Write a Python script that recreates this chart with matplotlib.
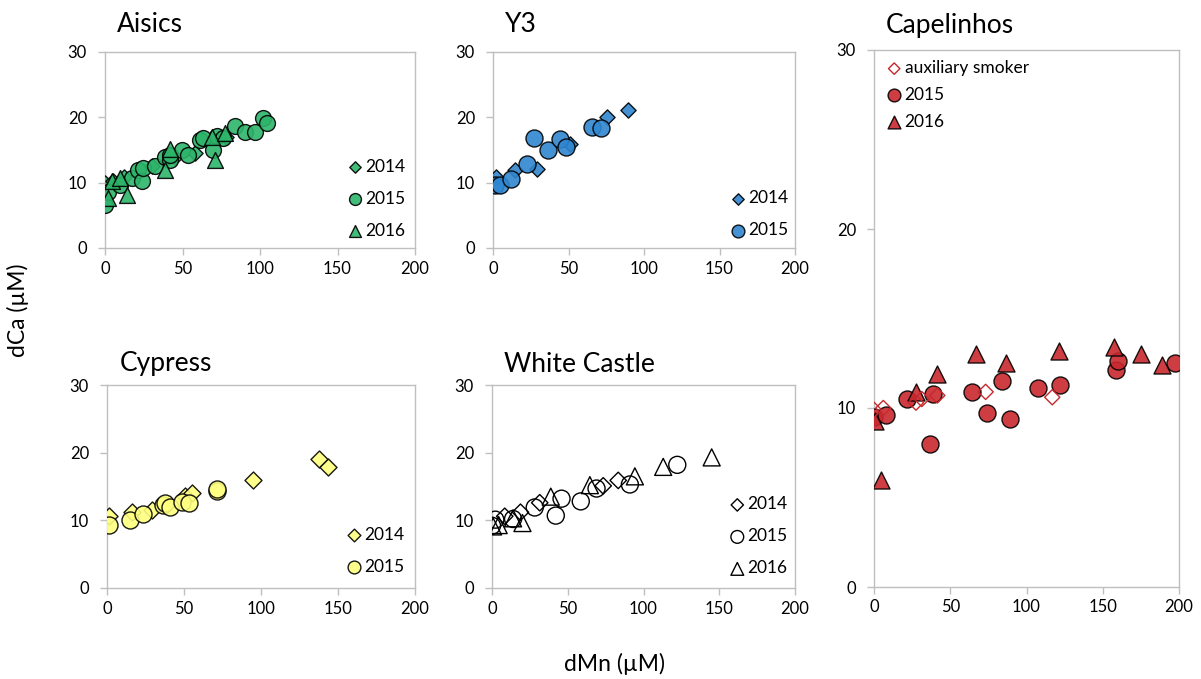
import matplotlib.pyplot as plt

plt.rcParams['font.family'] = ['Lato', 'DejaVu Sans']

# ---- data (dMn, dCa in uM) ----
ais_14_x = [0, 5, 12, 30, 45, 58, 78]
ais_14_y = [10.0, 10.2, 10.8, 12.5, 14.0, 14.5, 17.0]
ais_15_x = [0, 2.2, 9.7, 17.2, 21.5, 23.7, 24.7, 32.3, 38.7, 41.9, 41.9, 49.5, 53.8,
            61.3, 63.4, 69.9, 72, 76.3, 83.9, 90.3, 96.8, 102.2, 104.3]
ais_15_y = [6.6, 8.6, 9.6, 10.7, 11.9, 10.2, 12.2, 12.5, 14.0, 13.5, 14.3, 15.0, 14.3,
            16.5, 16.8, 15.0, 17.2, 16.8, 18.6, 17.8, 17.8, 19.9, 19.1]
ais_16_x = [2.2, 4.3, 9.7, 14, 38.7, 41.9, 68.8, 71, 77.4]
ais_16_y = [7.6, 10.2, 10.7, 8.1, 12.0, 15.1, 17.0, 13.5, 17.6]

y3_14_x = [2.2, 14.4, 29.2, 50.9, 75.2, 89.1]
y3_14_y = [10.8, 12.0, 12.1, 15.9, 20.1, 21.1]
y3_15_x = [1.1, 4.4, 12.2, 22.5, 27.2, 36.5, 44.2, 48.2, 65.3, 71.4]
y3_15_y = [9.6, 9.6, 10.5, 12.9, 16.8, 15.0, 16.7, 15.4, 18.5, 18.3]

cyp_14_x = [1.1, 16.2, 29.2, 50.8, 55.2, 95.1, 137.8, 143.4]
cyp_14_y = [10.6, 11.3, 11.6, 13.6, 14.0, 15.9, 19.0, 17.9]
cyp_15_x = [1.1, 15.1, 23.1, 36.3, 37.8, 41.1, 48.7, 53, 71.4, 71.4]
cyp_15_y = [9.3, 10.1, 11.0, 12.3, 12.5, 12.0, 12.7, 12.6, 14.4, 14.6]

wc_14_x = [8.4, 18.8, 31.5, 73.4, 83.3]
wc_14_y = [10.6, 11.2, 12.6, 15.1, 15.9]
wc_15_x = [0, 2.2, 13.9, 28.2, 42.1, 45.9, 58.6, 69, 91, 122.3]
wc_15_y = [9.2, 10.1, 10.2, 11.9, 10.7, 13.2, 12.8, 14.7, 15.3, 18.2]
wc_16_x = [0.7, 4.4, 13.9, 20.1, 38.8, 64.6, 94.3, 113, 145]
wc_16_y = [9.1, 9.3, 10.3, 9.6, 13.5, 15.2, 16.5, 17.9, 19.3]

cap_aux_x = [0, 6.1, 27.5, 31.3, 41.5, 73.2, 116.9]
cap_aux_y = [9.9, 10.0, 10.3, 10.5, 10.7, 10.9, 10.6]
cap_15_x = [0, 7.9, 21.4, 36.7, 38.9, 64.1, 73.9, 84.1, 89.2, 107.7, 122, 158.5, 160.2, 197.4]
cap_15_y = [9.5, 9.6, 10.5, 8.0, 10.8, 10.9, 9.7, 11.5, 9.4, 11.1, 11.3, 12.1, 12.6, 12.5]
cap_16_x = [0.7, 4.6, 27.5, 41.5, 66.7, 86.4, 121.5, 157.4, 174.9, 188.7]
cap_16_y = [9.3, 6.0, 10.9, 11.9, 13.0, 12.5, 13.2, 13.4, 13.0, 12.4]

green = '#2DB56A'
blue = '#2F86D0'
yellow = '#FFFF80'
red = '#C8282D'
grey = '#BFBFBF'

W, H = 1201, 679
fig = plt.figure(figsize=(W / 100, H / 100), dpi=100)


def make_ax(l, r, t, b, title, title_y):
    ax = fig.add_axes([l / W, 1 - b / H, (r - l) / W, (b - t) / H])
    ax.set_xlim(0, 200)
    ax.set_ylim(0, 30)
    ax.set_xticks([0, 50, 100, 150, 200])
    ax.set_yticks([0, 10, 20, 30])
    for s in ax.spines.values():
        s.set_color(grey)
        s.set_linewidth(1)
    ax.tick_params(colors=grey, labelcolor='black', labelsize=12, length=5, width=1)
    ax.tick_params(axis='x', pad=4)
    ax.tick_params(axis='y', pad=8)
    # title sits title_y pixels above the top of the plot box
    ax.text(0.04, 1 + title_y / (b - t), title, transform=ax.transAxes, fontsize=19,
            ha='left', va='center')
    return ax


def pts(ax, x, y, m, s, fc, label, ec='black', alpha=0.9, lw=1, z=3):
    ax.scatter(x, y, marker=m, s=s, c=fc, edgecolors=ec, linewidths=lw, alpha=alpha,
               label=label, zorder=z)


def leg(ax, anchor, spacing):
    ax.legend(loc='upper left', bbox_to_anchor=anchor, frameon=False, fontsize=12.5,
              handletextpad=0.1, labelspacing=spacing, borderaxespad=0, handlelength=1.0,
              scatterpoints=1, markerscale=0.75)


ax1 = make_ax(105, 415, 52, 248, 'Aisics', 27)
pts(ax1, ais_14_x, ais_14_y, 'D', 60, green, '2014')
pts(ax1, ais_15_x, ais_15_y, 'o', 130, green, '2015')
pts(ax1, ais_16_x, ais_16_y, '^', 130, green, '2016')
leg(ax1, (0.755, 0.49), 0.92)

ax2 = make_ax(493, 795, 52, 248, 'Y3', 27)
pts(ax2, y3_14_x, y3_14_y, 'D', 60, blue, '2014')
pts(ax2, y3_15_x, y3_15_y, 'o', 150, blue, '2015')
leg(ax2, (0.758, 0.33), 0.92)

ax3 = make_ax(107, 415, 385, 588, 'Cypress', 21)
pts(ax3, cyp_14_x, cyp_14_y, 'D', 75, yellow, '2014')
pts(ax3, cyp_15_x, cyp_15_y, 'o', 150, yellow, '2015')
leg(ax3, (0.751, 0.335), 0.92)

ax4 = make_ax(492, 795, 385, 588, 'White Castle', 21)
pts(ax4, wc_14_x, wc_14_y, 'D', 70, 'none', '2014', alpha=1)
pts(ax4, wc_15_x, wc_15_y, 'o', 150, 'none', '2015', alpha=1)
pts(ax4, wc_16_x, wc_16_y, '^', 150, 'none', '2016', alpha=1)
leg(ax4, (0.758, 0.485), 0.92)

ax5 = make_ax(874, 1179, 50, 587, 'Capelinhos', 25)
pts(ax5, cap_aux_x, cap_aux_y, 'D', 60, 'none', 'auxiliary smoker', ec=red, alpha=1, z=4)
pts(ax5, cap_15_x, cap_15_y, 'o', 150, red, '2015')
pts(ax5, cap_16_x, cap_16_y, '^', 150, red, '2016')
leg(ax5, (0.015, 0.994), 0.62)

fig.text(18 / W, 1 - 310 / H, 'dCa (\u00b5M)', rotation=90, fontsize=16.5, ha='center', va='center')
fig.text(614 / W, 1 - 664 / H, 'dMn (\u00b5M)', fontsize=16.5, ha='center', va='center')

fig.savefig('out.png', dpi=100)
